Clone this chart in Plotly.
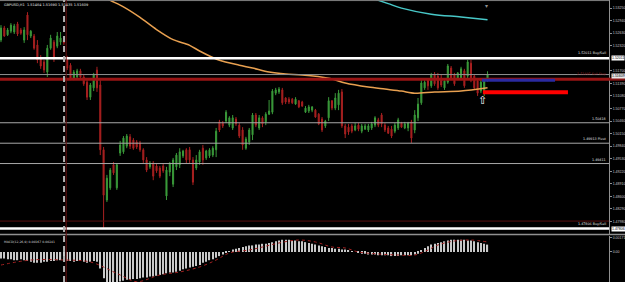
import plotly.graph_objects as go

# ---------------- DATA ----------------
symbol_text = "GBPUSD,H1  1.51464 1.51690 1.51435 1.51609"
macd_text = "MACD(12,26,9) 0.00167 0.00241"

candle_idx = list(range(148))
open_ = [1.5246, 1.5276, 1.5259, 1.5268, 1.5266, 1.5286, 1.5271, 1.5246, 1.5308, 1.5256,
         1.5256, 1.5234, 1.5202, 1.5192, 1.5167, 1.5226, 1.5241, 1.5231, 1.5241, 1.5246,
         1.5202, 1.5184, 1.5152, 1.5155, 1.5170, 1.5155, 1.5142, 1.5105, 1.5128, 1.5172,
         1.5135, 1.4975, 1.4851, 1.4881, 1.4938, 1.4881, 1.4967, 1.4970, 1.4984, 1.5007,
         1.4999, 1.4994, 1.4992, 1.4975, 1.4950, 1.4933, 1.4942, 1.4935, 1.4930, 1.4935,
         1.4861, 1.4920, 1.4890, 1.4933, 1.4938, 1.4960, 1.4975, 1.4975, 1.4950, 1.4930,
         1.4945, 1.4979, 1.4955, 1.4960, 1.4962, 1.4975, 1.5044, 1.5041, 1.5046, 1.5036,
         1.5029, 1.5051, 1.5036, 1.5024, 1.4979, 1.4994, 1.5012, 1.5061, 1.5029, 1.5054,
         1.5044, 1.5063, 1.5068, 1.5115, 1.5118, 1.5123, 1.5103, 1.5100, 1.5100, 1.5088,
         1.5096, 1.5093, 1.5068, 1.5071, 1.5073, 1.5073, 1.5063, 1.5051, 1.5034, 1.5054,
         1.5096, 1.5078, 1.5086, 1.5118, 1.5034, 1.5031, 1.5034, 1.5024, 1.5036, 1.5021,
         1.5026, 1.5024, 1.5029, 1.5036, 1.5049, 1.5061, 1.5036, 1.5029, 1.5026, 1.5021,
         1.5029, 1.5041, 1.5029, 1.5029, 1.5044, 1.5024, 1.5054, 1.5091, 1.5128, 1.5147,
         1.5133, 1.5162, 1.5157, 1.5152, 1.5128, 1.5142, 1.5177, 1.5160, 1.5150, 1.5152,
         1.5170, 1.5157, 1.5189, 1.5157, 1.5145, 1.5120, 1.5118, 1.51464]
high = [1.5283, 1.5281, 1.5276, 1.5288, 1.5286, 1.5291, 1.5276, 1.5278, 1.5315, 1.5271,
        1.5261, 1.5246, 1.5209, 1.5197, 1.5234, 1.5259, 1.5246, 1.5266, 1.5266, 1.5251,
        1.5207, 1.5189, 1.5172, 1.5175, 1.5175, 1.5160, 1.5147, 1.5140, 1.5165, 1.5180,
        1.5147, 1.4982, 1.4913, 1.4930, 1.4945, 1.4942, 1.4997, 1.5009, 1.5014, 1.5014,
        1.5004, 1.4999, 1.4997, 1.4979, 1.4957, 1.4947, 1.4947, 1.4940, 1.4935, 1.4940,
        1.4933, 1.4945, 1.4955, 1.4967, 1.4979, 1.4975, 1.4979, 1.4982, 1.4957, 1.4962,
        1.4975, 1.4987, 1.4975, 1.4979, 1.4984, 1.5029, 1.5049, 1.5046, 1.5073, 1.5058,
        1.5061, 1.5056, 1.5041, 1.5031, 1.5007, 1.5029, 1.5066, 1.5066, 1.5061, 1.5058,
        1.5068, 1.5098, 1.5125, 1.5128, 1.5130, 1.5128, 1.5105, 1.5105, 1.5103, 1.5105,
        1.5098, 1.5096, 1.5083, 1.5086, 1.5083, 1.5076, 1.5066, 1.5056, 1.5049, 1.5105,
        1.5098, 1.5115, 1.5123, 1.5125, 1.5039, 1.5039, 1.5039, 1.5041, 1.5041, 1.5039,
        1.5039, 1.5039, 1.5044, 1.5058, 1.5054, 1.5066, 1.5041, 1.5034, 1.5034, 1.5041,
        1.5054, 1.5044, 1.5044, 1.5044, 1.5049, 1.5073, 1.5103, 1.5147, 1.5147, 1.5152,
        1.5165, 1.5167, 1.5165, 1.5160, 1.5147, 1.5187, 1.5182, 1.5165, 1.5167, 1.5180,
        1.5175, 1.5197, 1.5197, 1.5160, 1.5152, 1.5147, 1.5150, 1.51690]
low = [1.5241, 1.5254, 1.5256, 1.5263, 1.5261, 1.5256, 1.5259, 1.5239, 1.5246, 1.5251,
       1.5222, 1.5189, 1.5175, 1.5165, 1.5155, 1.5222, 1.5192, 1.5226, 1.5234, 1.5234,
       1.5172, 1.5147, 1.5147, 1.5150, 1.5150, 1.5133, 1.5098, 1.5098, 1.5120, 1.5118,
       1.4962, 1.4782, 1.4846, 1.4876, 1.4913, 1.4876, 1.4960, 1.4965, 1.4979, 1.4977,
       1.4975, 1.4977, 1.4970, 1.4942, 1.4920, 1.4928, 1.4900, 1.4918, 1.4905, 1.4918,
       1.4851, 1.4910, 1.4883, 1.4925, 1.4930, 1.4955, 1.4942, 1.4942, 1.4888, 1.4925,
       1.4938, 1.4938, 1.4950, 1.4955, 1.4957, 1.4957, 1.5019, 1.5029, 1.5041, 1.5031,
       1.5024, 1.5034, 1.5004, 1.4975, 1.4975, 1.4987, 1.4999, 1.5031, 1.5024, 1.5031,
       1.5036, 1.5061, 1.5063, 1.5110, 1.5113, 1.5086, 1.5088, 1.5088, 1.5088, 1.5086,
       1.5078, 1.5081, 1.5066, 1.5066, 1.5068, 1.5054, 1.5036, 1.5019, 1.5029, 1.5046,
       1.5073, 1.5073, 1.5073, 1.5029, 1.5004, 1.5012, 1.5016, 1.5021, 1.5021, 1.5016,
       1.5024, 1.5019, 1.5024, 1.5031, 1.5031, 1.5031, 1.5019, 1.5014, 1.5004, 1.5016,
       1.5024, 1.5029, 1.5026, 1.5021, 1.4992, 1.5016, 1.5046, 1.5086, 1.5123, 1.5123,
       1.5128, 1.5133, 1.5123, 1.5130, 1.5123, 1.5138, 1.5147, 1.5133, 1.5147, 1.5147,
       1.5128, 1.5152, 1.5142, 1.5123, 1.5108, 1.5115, 1.5108, 1.51435]
close = [1.5276, 1.5256, 1.5271, 1.5283, 1.5281, 1.5261, 1.5263, 1.5271, 1.5259, 1.5268,
         1.5226, 1.5197, 1.5182, 1.5172, 1.5226, 1.5251, 1.5202, 1.5256, 1.5251, 1.5239,
         1.5177, 1.5152, 1.5167, 1.5170, 1.5155, 1.5138, 1.5105, 1.5135, 1.5160, 1.5128,
         1.4975, 1.4863, 1.4905, 1.4925, 1.4918, 1.4938, 1.4987, 1.5004, 1.5009, 1.4984,
         1.4979, 1.4982, 1.4975, 1.4950, 1.4925, 1.4942, 1.4910, 1.4923, 1.4910, 1.4923,
         1.4925, 1.4940, 1.4950, 1.4962, 1.4970, 1.4972, 1.4950, 1.4950, 1.4895, 1.4950,
         1.4970, 1.4950, 1.4972, 1.4975, 1.4979, 1.5021, 1.5024, 1.5034, 1.5068, 1.5054,
         1.5054, 1.5039, 1.5009, 1.4987, 1.5002, 1.5024, 1.5061, 1.5036, 1.5054, 1.5039,
         1.5063, 1.5071, 1.5120, 1.5123, 1.5125, 1.5091, 1.5093, 1.5093, 1.5091, 1.5100,
         1.5081, 1.5083, 1.5078, 1.5081, 1.5081, 1.5056, 1.5039, 1.5024, 1.5046, 1.5096,
         1.5078, 1.5103, 1.5115, 1.5034, 1.5014, 1.5019, 1.5021, 1.5034, 1.5026, 1.5034,
         1.5034, 1.5034, 1.5039, 1.5054, 1.5036, 1.5039, 1.5024, 1.5016, 1.5009, 1.5036,
         1.5049, 1.5031, 1.5039, 1.5041, 1.5004, 1.5061, 1.5088, 1.5140, 1.5142, 1.5133,
         1.5160, 1.5138, 1.5128, 1.5135, 1.5145, 1.5182, 1.5152, 1.5138, 1.5165, 1.5175,
         1.5133, 1.5192, 1.5147, 1.5128, 1.5115, 1.5142, 1.5145, 1.51609]

# moving averages (sampled at candle indices)
ma_orange_idx = [30, 33, 37, 42, 47, 52, 57, 60, 66, 72, 76, 81, 86, 91, 99, 104, 111, 116, 121, 125, 131, 139, 147]
ma_orange_val = [1.5357, 1.5344, 1.5328, 1.5302, 1.5272, 1.5247, 1.5233, 1.5219, 1.5196, 1.5184, 1.5177, 1.5167,
                 1.5162, 1.5160, 1.5152, 1.5140, 1.5130, 1.5125, 1.5120, 1.5115, 1.5118, 1.5120, 1.5128]
ma_cyan_idx = [113, 117, 121, 130, 139, 147]
ma_cyan_val = [1.5347, 1.5336, 1.5325, 1.5310, 1.5303, 1.5296]

# horizontal levels
level_white = [1.52011, 1.47806]
level_white_text = ["1.52011 Buy/Sell", "1.47806 Buy/Sell"]
level_gray = [1.50418, 1.49913, 1.49411]
level_gray_text = ["1.50418", "1.49913 Pivot", "1.49411"]
level_bid = 1.51609
level_darkred = 1.51495
level_darkred_text = "1.51495 Sell Stop"
level_darkred_thin = 1.47990

# short trade lines: (start idx, end idx, price)
blue_line = (145.3, 167.4, 1.5147)
red_line = (145.6, 171.3, 1.5117)
arrow_pos = (145.6, 1.5098)
separator_idx = [19.05, 19.7]

price_ticks = [1.53250, 1.52940, 1.52630, 1.52320, 1.51700, 1.51390, 1.51080, 1.50770, 1.50460,
               1.50150, 1.49840, 1.49530, 1.49220, 1.48910, 1.48600, 1.48290, 1.47980]
price_tick_text = ["%.5f" % v for v in price_ticks]
macd_ticks = [0.00171, 0.0]
macd_tick_text = ["0.00171", "0.00"]

macd_hist = [-0.0008, -0.0008, -0.0009, -0.0009, -0.0010, -0.0010, -0.0009, -0.0010,
             -0.0011, -0.0012, -0.0013, -0.0013, -0.0013, -0.0012, -0.0012, -0.0011, -0.0011, -0.0010, -0.0010,
             -0.0010, -0.0011, -0.0011, -0.0012, -0.0011, -0.0011, -0.0012, -0.0013, -0.0012, -0.0011, -0.0012,
             -0.0020,
             -0.0032, -0.0037, -0.0037, -0.0037, -0.0037, -0.0036,
             -0.0035, -0.0034, -0.0034, -0.0033, -0.0033, -0.0032,
             -0.0031, -0.0031, -0.0030, -0.0030, -0.0029, -0.0028,
             -0.0027, -0.0026, -0.0025, -0.0025, -0.0024, -0.0023,
             -0.0021, -0.0020, -0.0019, -0.0018, -0.0017, -0.0016,
             -0.0013, -0.0012, -0.0010, -0.0009, -0.0007, -0.0005,
             -0.0003, -0.0001, 0.0001,
             0.0003, 0.0004, 0.0005, 0.0006, 0.0007, 0.0008,
             0.0008, 0.0009, 0.0009, 0.0010, 0.0010, 0.0011, 0.0012,
             0.0013, 0.0014, 0.0015, 0.0015, 0.0015, 0.0014, 0.0014, 0.0013, 0.0013, 0.0012,
             0.0011, 0.0010, 0.0009, 0.0008,
             0.0007, 0.0006, 0.0005, 0.0005, 0.0004,
             0.0004, 0.0003, 0.0003,
             0.0002, 0.0001, 0.0000, -0.0001,
             -0.0002, -0.0002, -0.0003, -0.0003, -0.0003, -0.0004, -0.0004, -0.0004, -0.0004,
             -0.0005, -0.0005, -0.0005, -0.0004, -0.0004, -0.0004, -0.0004, -0.0003, -0.0002,
             0.0002, 0.0005, 0.0007,
             0.0009, 0.0010, 0.0011, 0.0012, 0.0013,
             0.0014, 0.0015, 0.0015, 0.0015, 0.0015, 0.0015, 0.0014, 0.0014,
             0.0013, 0.0012, 0.0011,
             0.0010, 0.0009]
signal_idx = [0, 9, 19, 27, 36, 41, 48, 54, 60, 65, 69, 75, 79, 84, 90, 95, 100, 104, 108, 114, 120, 125, 129, 132, 137, 142, 147]
signal_val = [-0.00159, -0.00098, -0.00098, -0.00122, -0.0028, -0.00362, -0.0028, -0.00244, -0.00183, -0.00098,
              -0.00012, 0.00024, 0.00061, 0.0011, 0.00146, 0.00122, 0.00061, 0.00049, 0.0, -0.00024, -0.00037,
              -0.00037, 0.00024, 0.00085, 0.00134, 0.00146, 0.00122]

# ---------------- FIGURE ----------------
FONT = "DejaVu Sans"
AXFONT = "Liberation Sans Narrow, Liberation Sans, DejaVu Sans"
LBL = 3.3
AXTXT = 3.5
fig = go.Figure()

fig.add_trace(go.Candlestick(
    x=candle_idx, open=open_, high=high, low=low, close=close,
    increasing=dict(line=dict(color="#3A9A3A", width=1), fillcolor="#3A9A3A"),
    decreasing=dict(line=dict(color="#A82020", width=1), fillcolor="#A82020"),
    whiskerwidth=0, xaxis="x", yaxis="y", hoverinfo="skip"))

fig.add_trace(go.Scatter(x=ma_orange_idx, y=ma_orange_val, mode="lines",
                         line=dict(color="#E8A050", width=1.5, shape="spline", smoothing=0.8), yaxis="y"))
fig.add_trace(go.Scatter(x=ma_cyan_idx, y=ma_cyan_val, mode="lines",
                         line=dict(color="#48C8C8", width=1.5, shape="spline"), yaxis="y"))

fig.add_trace(go.Bar(x=candle_idx, y=macd_hist, width=0.35, marker=dict(color="#C8C8C8", line=dict(width=0)),
                     yaxis="y2"))
fig.add_trace(go.Scatter(x=signal_idx, y=signal_val, mode="lines",
                         line=dict(color="#A02020", width=1, dash="dot", shape="spline"), yaxis="y2"))

shapes = []
shapes.append(dict(type="line", xref="paper", yref="paper", x0=0, x1=1, y0=0.998, y1=0.998,
                   line=dict(color="#808080", width=1)))
shapes.append(dict(type="line", xref="paper", yref="paper", x0=0, x1=1.03, y0=1 - 234.5 / 282, y1=1 - 234.5 / 282,
                   line=dict(color="#909090", width=1.5)))
for v in level_white:
    shapes.append(dict(type="line", xref="paper", yref="y", x0=0, x1=1, y0=v, y1=v,
                       line=dict(color="#FFFFFF", width=2.5)))
for v in level_gray:
    shapes.append(dict(type="line", xref="paper", yref="y", x0=0, x1=1, y0=v, y1=v,
                       line=dict(color="#A8A8A8", width=1)))
shapes.append(dict(type="line", xref="paper", yref="y", x0=0, x1=1, y0=level_bid, y1=level_bid,
                   line=dict(color="#909090", width=1)))
shapes.append(dict(type="line", xref="paper", yref="y", x0=0, x1=1, y0=level_darkred, y1=level_darkred,
                   line=dict(color="#9A1414", width=3)))
shapes.append(dict(type="line", xref="paper", yref="y", x0=0, x1=1, y0=level_darkred_thin, y1=level_darkred_thin,
                   line=dict(color="#5A1010", width=1)))
shapes.append(dict(type="line", xref="x", yref="paper", x0=separator_idx[0], x1=separator_idx[0], y0=0, y1=1,
                   line=dict(color="#B0B0B0", width=2, dash="6px,4px")))
shapes.append(dict(type="line", xref="x", yref="paper", x0=separator_idx[1], x1=separator_idx[1], y0=0, y1=1,
                   line=dict(color="#6A1010", width=1)))
shapes.append(dict(type="line", xref="x", yref="y", x0=blue_line[0], x1=blue_line[1], y0=blue_line[2], y1=blue_line[2],
                   line=dict(color="#2A2AA0", width=3)))
shapes.append(dict(type="line", xref="x", yref="y", x0=red_line[0], x1=red_line[1], y0=red_line[2], y1=red_line[2],
                   line=dict(color="#FF0000", width=4)))
shapes.append(dict(type="line", xref="paper", yref="y", x0=1.0, x1=1.026, y0=level_darkred, y1=level_darkred,
                   line=dict(color="#8A1414", width=3)))

ann = []
small = dict(family=FONT, size=LBL, color="#E0E0E0")
ann.append(dict(xref="paper", yref="paper", x=0.003, y=0.997, xanchor="left", yanchor="top",
                text=symbol_text, showarrow=False, font=dict(family=FONT, size=3.5, color="#E0E0E0")))
ann.append(dict(xref="paper", yref="paper", x=0.003, y=1 - 242 / 282, xanchor="left", yanchor="middle",
                text=macd_text, showarrow=False, font=dict(family=FONT, size=3.1, color="#D0D0D0")))
for v, t in zip(level_white, level_white_text):
    ann.append(dict(xref="paper", yref="y", x=0.998, y=v, xanchor="right", yanchor="bottom", yshift=1,
                    text=t, showarrow=False, font=small))
    ann.append(dict(xref="paper", yref="y", x=1.0035, y=v, xanchor="left", yanchor="middle",
                    text="%.5f" % v, showarrow=False, bgcolor="#FFFFFF", borderpad=0,
                    font=dict(family=AXFONT, size=AXTXT, color="#000000")))
for v, t in zip(level_gray, level_gray_text):
    ann.append(dict(xref="paper", yref="y", x=0.998, y=v, xanchor="right", yanchor="bottom",
                    text=t, showarrow=False, font=small))
ann.append(dict(xref="paper", yref="y", x=0.998, y=level_darkred, xanchor="right", yanchor="bottom", yshift=1,
                text=level_darkred_text, showarrow=False, font=dict(family=FONT, size=LBL, color="#8A1A1A")))
ann.append(dict(xref="paper", yref="y", x=1.0035, y=level_bid, xanchor="left", yanchor="middle", yshift=-1,
                text="%.5f" % level_bid, showarrow=False, bgcolor="#E8E8E8", borderpad=0,
                font=dict(family=AXFONT, size=AXTXT, color="#000000")))
ann.append(dict(xref="x", yref="y", x=arrow_pos[0], y=arrow_pos[1], text="⇧", showarrow=False,
                font=dict(family=FONT, size=11, color="#FFFFFF")))
ann.append(dict(xref="x", yref="paper", x=146.8, y=1.0, yanchor="top", text="▾", showarrow=False,
                font=dict(family=FONT, size=6, color="#909090")))

axis_common = dict(side="right", automargin=False, ticks="outside", ticklen=2, tickcolor="#909090",
                   ticklabelstandoff=0,
                   tickfont=dict(family=AXFONT, size=AXTXT, color="#C8C8C8"),
                   showgrid=False, zeroline=False, showline=True, linecolor="#909090", linewidth=1)

fig.update_layout(
    width=625, height=282,
    margin=dict(l=0, r=16, t=0, b=0, autoexpand=False),
    paper_bgcolor="#000000", plot_bgcolor="#000000",
    showlegend=False, boxgap=0.55,
    shapes=shapes, annotations=ann,
    xaxis=dict(range=[-0.3, 183.7], showgrid=False, zeroline=False, showticklabels=False, automargin=False,
               rangeslider=dict(visible=False), showline=False, anchor="y", fixedrange=True),
    yaxis=dict(domain=[1 - 235 / 282, 1], range=[1.47646, 1.5345],
               tickvals=price_ticks, ticktext=price_tick_text, **axis_common),
    yaxis2=dict(domain=[0, 1 - 236 / 282], range=[-0.00366, 0.00195], anchor="x",
                tickvals=macd_ticks, ticktext=macd_tick_text, **axis_common),
)

fig.write_html("out.html")
